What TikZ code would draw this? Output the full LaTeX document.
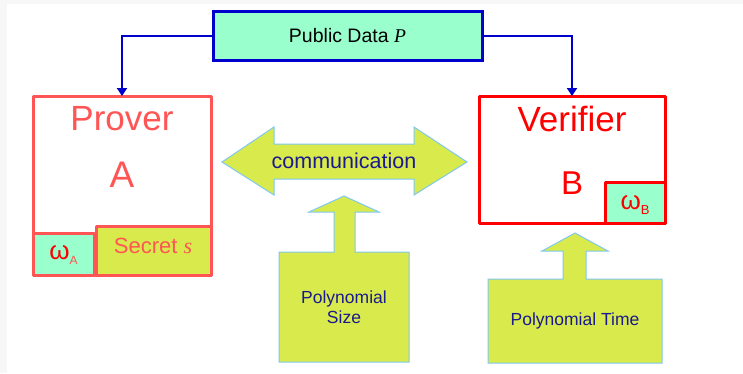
\documentclass[tikz,border=0pt]{standalone}
\usepackage{fontspec}
\setmainfont{Liberation Sans}
\newfontfamily\serifit{Liberation Serif}
\usetikzlibrary{arrows.meta}

\definecolor{mint}{HTML}{99FFCC}
\definecolor{lime}{HTML}{D8EA4C}
\definecolor{skyedge}{HTML}{80C8F0}
\definecolor{navy}{HTML}{1A1A8C}
\definecolor{linkblue}{HTML}{0000CC}
\definecolor{softred}{HTML}{FF5555}
\definecolor{pagegray}{HTML}{F7F7F7}

\newcommand{\fs}[1]{\fontsize{#1}{#1}\selectfont}

\tikzset{
  partybox/.style={line width=3pt, line join=round},
  bigarrow/.style={fill=lime, draw=skyedge, line width=1pt, line join=miter},
  link/.style={draw=linkblue, line width=2.8pt,
    -{Triangle[width=10pt,length=8pt]}},
  lbl/.style={inner sep=0pt, anchor=center},
}

\begin{document}
\begin{tikzpicture}[x=1pt,y=-1pt]
  % page background with a faint grey margin at top and left
  \fill[pagegray] (0,0) rectangle (743,373);
  \fill[white] (7,4) rectangle (743,373);
  \useasboundingbox (0,0) rectangle (743,373);

  % public data box
  \draw[linkblue, fill=mint, line width=3pt]
    (213,11) rectangle (482,60);
  \node[lbl, text=black] (pub) at (347.5,35.5)
    {\fs{19.5}Public Data \serifit\itshape P};
  \coordinate (pubL) at (213,36);
  \coordinate (pubR) at (482,36);

  % prover
  \draw[partybox, softred] (33,96) rectangle (211,275);
  \draw[partybox, softred, fill=mint] (33,233) rectangle (94,275);
  \draw[partybox, softred, fill=lime] (96,226) rectangle (211,275);
  \coordinate (provTop) at (122,96);
  \node[lbl, text=softred] (prov) at (122,119) {\fs{35}Prover};
  \node[lbl, text=softred] (provA) at (122,175) {\fs{37}A};
  \node[lbl, text=softred] (secret) at (153,246)
    {\fs{22}Secret {\serifit\itshape s}};
  \node[lbl] (omegaA) at (63.5,255)
    {\fs{26}\textcolor{red}{ω}\raisebox{-5pt}{\fs{12}\textcolor{softred}{A}}};

  % verifier
  \draw[partybox, red] (479,96) rectangle (665,223);
  \draw[partybox, red, fill=mint] (605,182) rectangle (665,223);
  \coordinate (verTop) at (572,96);
  \node[lbl, text=red] (ver) at (572,119) {\fs{35}Verifier};
  \node[lbl, text=red] (verB) at (572,183) {\fs{33}B};
  \node[lbl] (omegaB) at (635,205)
    {\fs{26}\textcolor{red}{ω}\raisebox{-5pt}{\fs{13}\textcolor{red}{B}}};

  % connectors from the public data
  \draw[link] (pubL) -| (provTop);
  \draw[link] (pubR) -| (verTop);

  % communication double arrow
  \draw[bigarrow] (222,162) -- (274,127) -- (274,144) -- (414,144)
    -- (414,127) -- (467,162) -- (414,195) -- (414,179) -- (274,179)
    -- (274,195) -- cycle;
  \node[lbl, text=navy] (comm) at (344,161) {\fs{21.5}communication};

  % polynomial size
  \draw[bigarrow] (279,252) -- (334,252) -- (334,212) -- (309,212)
    -- (344,196) -- (379,212) -- (355,212) -- (355,252) -- (409,252)
    -- (409,362) -- (279,362) -- cycle;
  \node[lbl, text=navy, align=center] (psize) at (344,307)
    {\fs{17.5}Polynomial\\[3pt]\fs{17.5}Size};

  % polynomial time
  \draw[bigarrow] (488,279) -- (563,279) -- (563,251) -- (542,251)
    -- (575,233) -- (608,251) -- (586,251) -- (586,279) -- (662,279)
    -- (662,363) -- (488,363) -- cycle;
  \node[lbl, text=navy] (ptime) at (575,321) {\fs{17.5}Polynomial Time};
\end{tikzpicture}
\end{document}
